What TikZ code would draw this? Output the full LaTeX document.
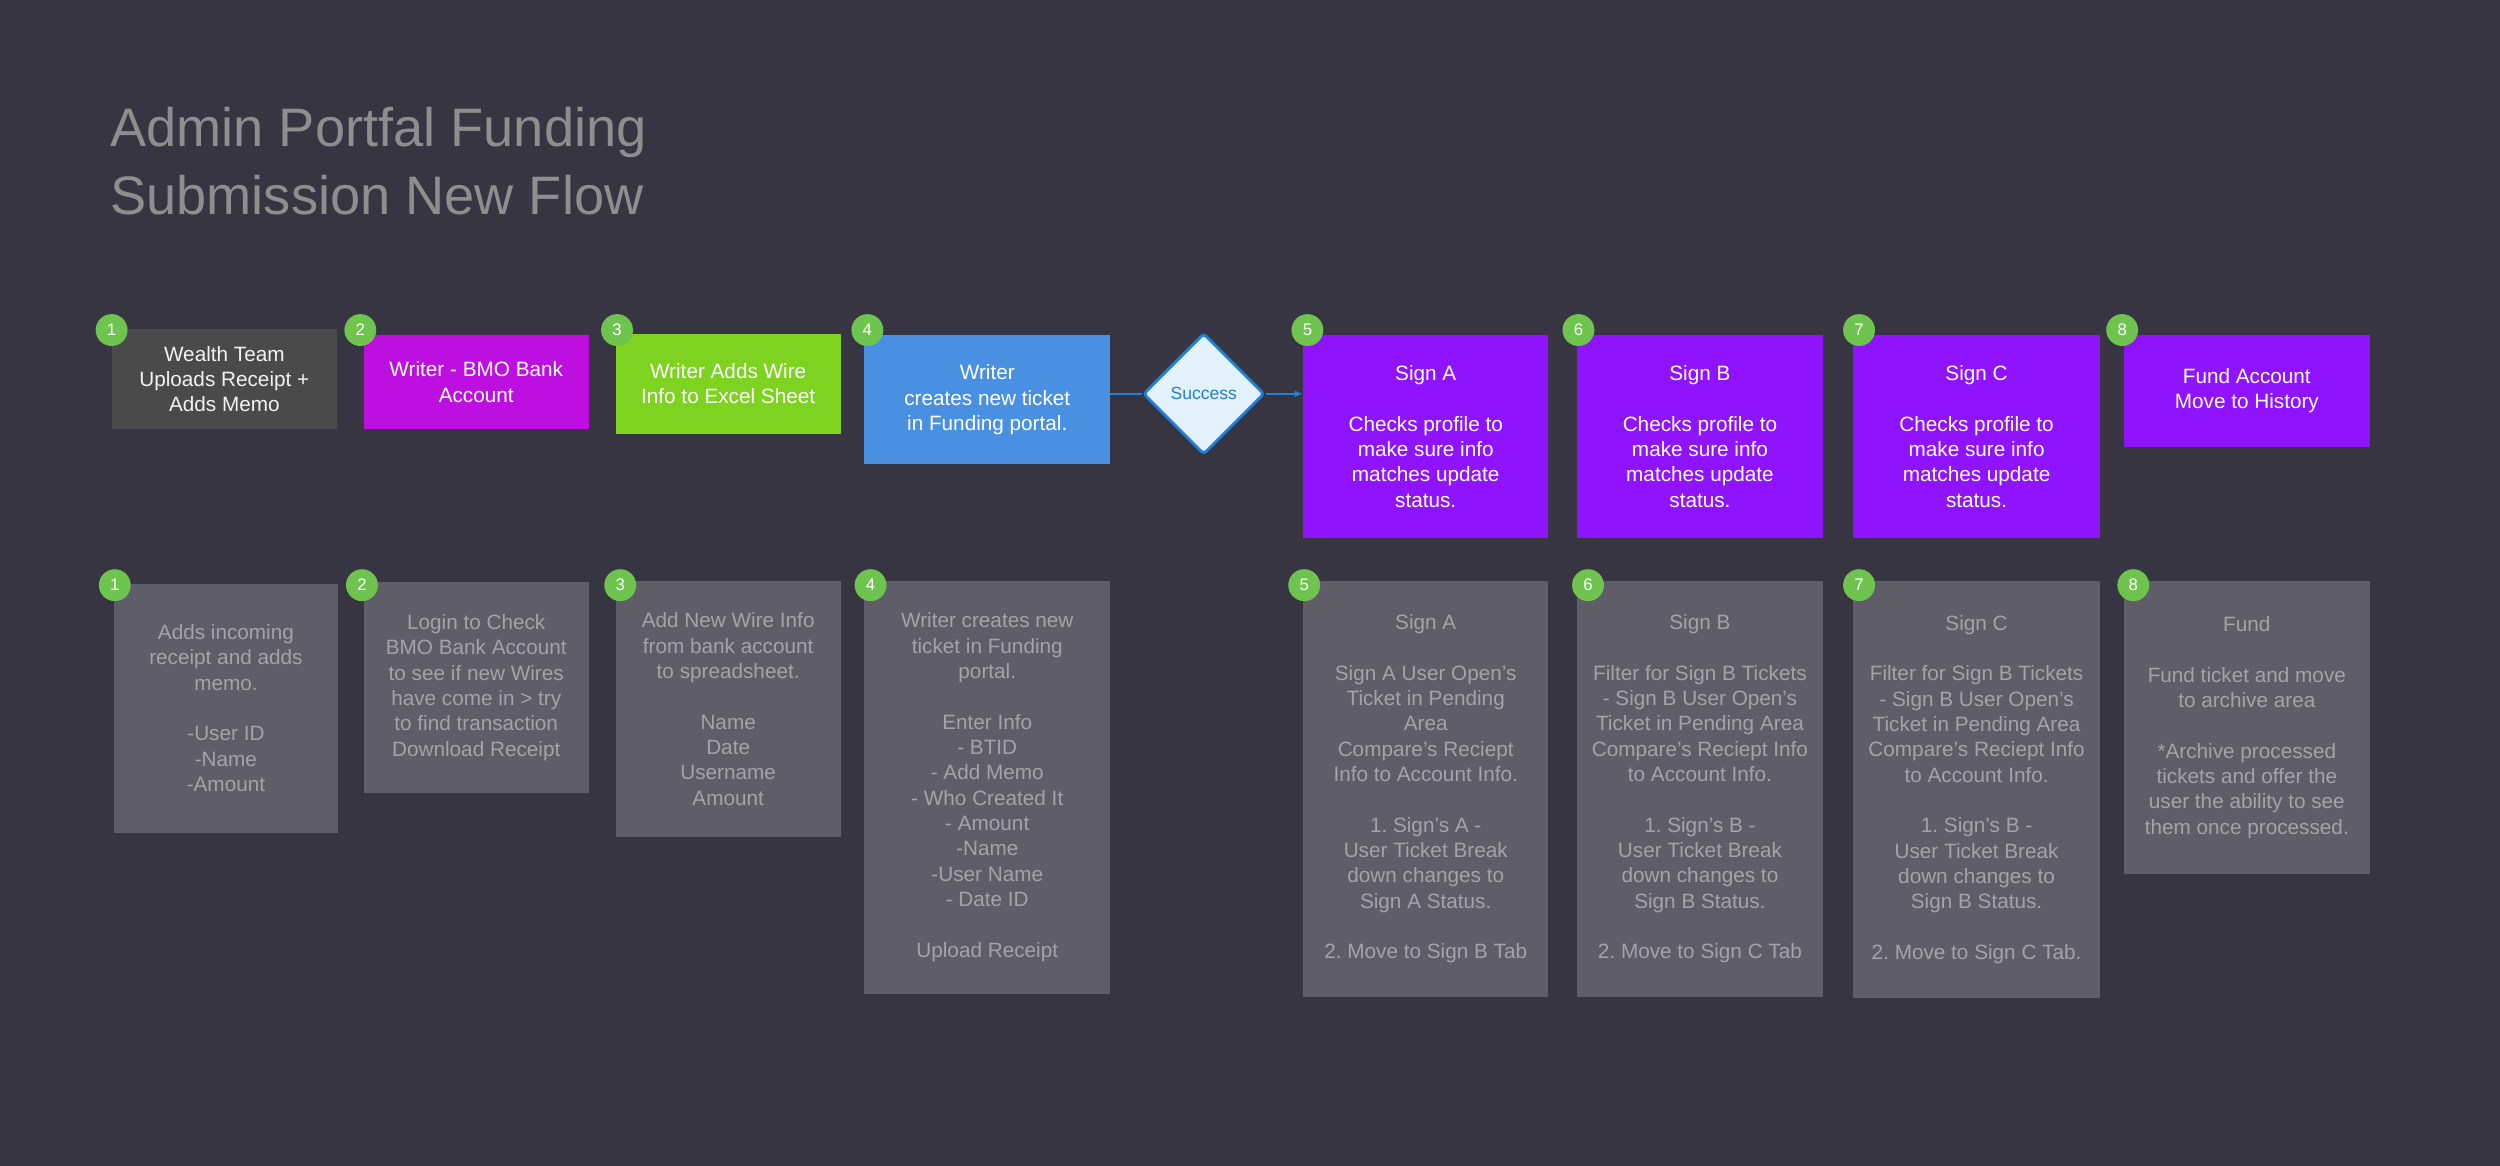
\documentclass[tikz,border=0pt]{standalone}
\usepackage{fontspec}
\setmainfont{Liberation Sans}
\usetikzlibrary{shapes.geometric,arrows.meta,backgrounds}
\frenchspacing

\definecolor{pagebg}{HTML}{363541}
\definecolor{titlegray}{HTML}{8E8E8E}
\definecolor{wealthgray}{HTML}{4A4A4A}
\definecolor{bmomagenta}{HTML}{BD10E0}
\definecolor{excelgreen}{HTML}{7ED321}
\definecolor{portalblue}{HTML}{4A90E2}
\definecolor{signpurple}{HTML}{9013FE}
\definecolor{badgegreen}{HTML}{6EC44F}
\definecolor{notegray}{HTML}{5F5E68}
\definecolor{notetext}{HTML}{A3A3A8}
\definecolor{flowblue}{HTML}{1E80D6}
\definecolor{successfill}{HTML}{E3F1FD}

\newcommand\cardfont{\fontsize{13}{15.9}\selectfont}
\newcommand\badgefont{\fontsize{10.5}{12}\selectfont}
\newcommand\titlefont{\fontsize{34}{42.4}\selectfont}

\tikzset{
  stepbox/.style={anchor=north west, inner sep=0pt, align=center, font=\cardfont, text=white},
  topbox/.style={stepbox, fill=#1},
  notebox/.style={stepbox, fill=notegray, text=notetext},
  badge/.style={circle, fill=badgegreen, text=white, minimum size=20pt, inner sep=0pt, font=\badgefont},
  decision/.style={diamond, draw=flowblue, line width=1.8pt, fill=successfill, rounded corners=2pt,
    minimum width=76pt, minimum height=76pt, inner sep=0pt, text=flowblue, font=\fontsize{11}{13}\selectfont},
  flowline/.style={draw=flowblue, line width=1.2pt}
}

\begin{document}
\begin{tikzpicture}[x=1pt,y=-1pt,execute at end picture=%
  {
    \begin{pgfonlayer}{background}
      \fill[pagebg] (current bounding box.south west) rectangle (current bounding box.north east);
    \end{pgfonlayer}
  }]
  \useasboundingbox (0,0) rectangle (1568,731);

  % title
  \node[anchor=north west, inner sep=0pt, align=left, font=\titlefont, text=titlegray] (title) at (69,67)
    {Admin Portfal Funding\\Submission New Flow};

  % top row
  \node[topbox=wealthgray, text=white!90!gray, minimum width=141pt, minimum height=63pt] (top1) at (70,206)
    {Wealth Team\\Uploads Receipt +\\Adds Memo};
  \node[topbox=bmomagenta, minimum width=141pt, minimum height=59pt] (top2) at (228,210)
    {Writer - BMO Bank\\Account};
  \node[topbox=excelgreen, minimum width=141pt, minimum height=63pt] (top3) at (386,209)
    {Writer Adds Wire\\Info to Excel Sheet};
  \node[topbox=portalblue, minimum width=154pt, minimum height=81pt] (top4) at (542,210)
    {Writer\\creates new ticket\\in Funding portal.};
  \node[decision] (success) at (755,247) {Success};
  \node[topbox=signpurple, minimum width=154pt, minimum height=127pt] (top5) at (817,210)
    {Sign A\\[15.9pt]Checks profile to\\make sure info\\matches update\\status.};
  \node[topbox=signpurple, minimum width=154pt, minimum height=127pt] (top6) at (989,210)
    {Sign B\\[15.9pt]Checks profile to\\make sure info\\matches update\\status.};
  \node[topbox=signpurple, minimum width=155pt, minimum height=127pt] (top7) at (1162,210)
    {Sign C\\[15.9pt]Checks profile to\\make sure info\\matches update\\status.};
  \node[topbox=signpurple, minimum width=154pt, minimum height=70pt] (top8) at (1332,210)
    {Fund Account\\Move to History};

  \draw[flowline] (success.west) -- (success.west -| top4.east);
  \draw[flowline,-{Latex[length=5pt,width=4.5pt]}] (success.east) -- (success.east -| top5.west);

  % bottom row
  \node[notebox, minimum width=141pt, minimum height=156pt] (info1) at (71,366)
    {Adds incoming\\receipt and adds\\memo.\\[15.9pt]-User ID\\-Name\\-Amount};
  \node[notebox, minimum width=141pt, minimum height=132pt] (info2) at (228,365)
    {Login to Check\\BMO Bank Account\\to see if new Wires\\have come in > try\\to find transaction\\Download Receipt};
  \node[notebox, minimum width=141pt, minimum height=161pt] (info3) at (386,364)
    {Add New Wire Info\\from bank account\\to spreadsheet.\\[15.9pt]Name\\Date\\Username\\Amount};
  \node[notebox, minimum width=154pt, minimum height=259pt] (info4) at (542,364)
    {Writer creates new\\ticket in Funding\\portal.\\[15.9pt]Enter Info\\- BTID\\- Add Memo\\- Who Created It\\- Amount\\-Name\\-User Name\\- Date ID\\[15.9pt]Upload Receipt};
  \node[notebox, minimum width=154pt, minimum height=261pt] (info5) at (817,364)
    {Sign A\\[15.9pt]Sign A User Open’s\\Ticket in Pending\\Area\\Compare’s Reciept\\Info to Account Info.\\[15.9pt]1. Sign’s A -\\User Ticket Break\\down changes to\\Sign A Status.\\[15.9pt]2. Move to Sign B Tab};
  \node[notebox, minimum width=154pt, minimum height=261pt] (info6) at (989,364)
    {Sign B\\[15.9pt]Filter for Sign B Tickets\\- Sign B User Open’s\\Ticket in Pending Area\\Compare’s Reciept Info\\to Account Info.\\[15.9pt]1. Sign’s B -\\User Ticket Break\\down changes to\\Sign B Status.\\[15.9pt]2. Move to Sign C Tab};
  \node[notebox, minimum width=155pt, minimum height=262pt] (info7) at (1162,364)
    {Sign C\\[15.9pt]Filter for Sign B Tickets\\- Sign B User Open’s\\Ticket in Pending Area\\Compare’s Reciept Info\\to Account Info.\\[15.9pt]1. Sign’s B -\\User Ticket Break\\down changes to\\Sign B Status.\\[15.9pt]2. Move to Sign C Tab.};
  \node[notebox, minimum width=154pt, minimum height=184pt] (info8) at (1332,364)
    {Fund\\[15.9pt]Fund ticket and move\\to archive area\\[15.9pt]*Archive processed\\tickets and offer the\\user the ability to see\\them once processed.};

  % step numbers
  \node[badge] (n1) at (70,207) {1};
  \node[badge] (n2) at (226,207) {2};
  \node[badge] (n3) at (387,207) {3};
  \node[badge] (n4) at (544,207) {4};
  \node[badge] (n5) at (820,207) {5};
  \node[badge] (n6) at (990,207) {6};
  \node[badge] (n7) at (1166,207) {7};
  \node[badge] (n8) at (1331,207) {8};

  \node[badge] (m1) at (72,367) {1};
  \node[badge] (m2) at (227,367) {2};
  \node[badge] (m3) at (389,367) {3};
  \node[badge] (m4) at (546,367) {4};
  \node[badge] (m5) at (818,367) {5};
  \node[badge] (m6) at (996,367) {6};
  \node[badge] (m7) at (1166,367) {7};
  \node[badge] (m8) at (1338,367) {8};
\end{tikzpicture}
\end{document}
